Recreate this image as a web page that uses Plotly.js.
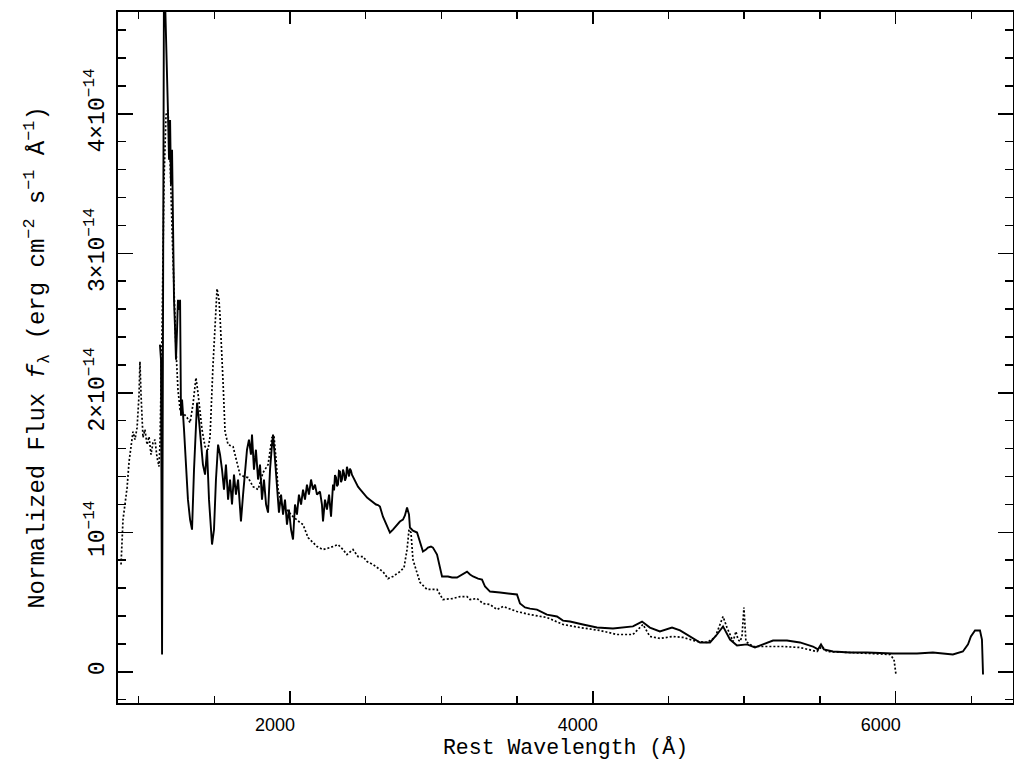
<!DOCTYPE html>
<html>
<head>
<meta charset="utf-8">
<script src="https://cdn.plot.ly/plotly-3.0.1.min.js"></script>
<style>
html,body{margin:0;padding:0;background:#fff;}
#chart{width:1014px;height:764px;}
</style>
</head>
<body>
<div id="chart"></div>
<script>
// Object spectrum (solid), rest wavelength in Å and flux in units of 1e-14 erg cm^-2 s^-1 Å^-1
const wave_obj = [1141,1148,1155,1161,1168,1194,1201,1208,1214,1221,1227,1234,1241,1247,1254,1260,1267,1274,1280,1287,1300,1313,1326,1340,1353,1366,1379,1386,1399,1412,1425,1439,1452,1465,1478,1485,1498,1511,1525,1538,1551,1564,1577,1591,1604,1617,1630,1643,1657,1670,1676,1690,1703,1716,1729,1742,1749,1762,1775,1789,1802,1815,1828,1842,1855,1868,1881,1888,1901,1914,1927,1941,1954,1967,1980,1993,2007,2020,2033,2046,2059,2073,2086,2099,2112,2125,2139,2152,2165,2178,2198,2211,2218,2231,2244,2258,2271,2284,2291,2297,2304,2310,2317,2323,2330,2337,2343,2350,2357,2363,2370,2376,2383,2390,2396,2403,2409,2419,2429,2439,2449,2462,2475,2492,2509,2525,2542,2555,2568,2581,2594,2614,2641,2660,2680,2693,2713,2726,2746,2759,2773,2786,2792,2812,2839,2859,2878,2898,2911,2931,2944,2971,2991,3004,3043,3070,3103,3123,3136,3156,3169,3189,3209,3242,3268,3288,3321,3387,3453,3499,3519,3552,3585,3631,3697,3763,3803,3849,3935,4027,4133,4199,4265,4325,4377,4443,4523,4576,4642,4708,4774,4820,4860,4879,4906,4952,5018,5071,5124,5190,5282,5368,5454,5487,5507,5526,5586,5698,5810,5982,6141,6246,6378,6444,6478,6497,6524,6557,6570,6577];
const flux_obj = [2.345,2.237,0.124,2.667,5.102,4.014,3.670,3.956,3.492,3.742,3.025,2.667,2.452,2.237,2.452,2.667,2.595,2.667,1.836,1.951,1.736,1.449,1.234,1.091,1.019,1.449,1.800,1.929,1.800,1.664,1.485,1.413,1.592,1.234,1.019,0.912,1.019,1.378,1.628,1.557,1.449,1.306,1.485,1.234,1.378,1.199,1.413,1.270,1.378,1.163,1.077,1.270,1.449,1.592,1.664,1.557,1.700,1.449,1.592,1.378,1.485,1.234,1.378,1.199,1.141,1.449,1.628,1.700,1.521,1.306,1.141,1.270,1.127,1.234,1.055,1.163,1.019,0.948,1.199,1.127,1.270,1.199,1.306,1.234,1.342,1.270,1.378,1.306,1.342,1.270,1.292,1.199,1.077,1.234,1.163,1.270,1.112,1.342,1.300,1.410,1.392,1.330,1.342,1.440,1.435,1.360,1.378,1.450,1.421,1.370,1.392,1.470,1.435,1.400,1.456,1.440,1.413,1.390,1.363,1.345,1.327,1.310,1.292,1.270,1.249,1.235,1.220,1.215,1.199,1.195,1.184,1.112,1.041,0.998,1.019,1.034,1.062,1.077,1.091,1.120,1.177,1.127,1.034,1.012,0.998,0.933,0.862,0.876,0.890,0.898,0.890,0.840,0.747,0.683,0.683,0.676,0.676,0.690,0.697,0.711,0.718,0.697,0.683,0.668,0.661,0.611,0.575,0.568,0.561,0.554,0.489,0.461,0.453,0.446,0.410,0.396,0.367,0.360,0.339,0.317,0.310,0.317,0.325,0.360,0.317,0.289,0.317,0.296,0.253,0.210,0.210,0.267,0.325,0.289,0.231,0.188,0.196,0.174,0.196,0.224,0.224,0.210,0.181,0.160,0.196,0.160,0.145,0.138,0.138,0.131,0.131,0.138,0.124,0.145,0.196,0.253,0.296,0.296,0.231,-0.019];

// Composite quasar spectrum (dotted)
const wave_comp = [884,897,910,924,937,950,963,976,990,1003,1009,1016,1029,1042,1056,1069,1082,1095,1108,1122,1135,1141,1155,1168,1181,1194,1208,1221,1234,1247,1260,1274,1293,1320,1340,1359,1379,1392,1419,1439,1458,1472,1491,1505,1518,1531,1538,1558,1571,1591,1624,1650,1670,1696,1723,1756,1789,1822,1855,1881,1894,1908,1921,1947,1980,2020,2066,2086,2119,2178,2218,2264,2317,2350,2376,2416,2449,2482,2509,2548,2594,2614,2647,2680,2726,2753,2773,2786,2799,2812,2826,2859,2905,2971,3010,3076,3123,3169,3189,3235,3275,3321,3367,3407,3499,3585,3697,3803,3915,4047,4160,4265,4331,4377,4443,4529,4595,4688,4754,4807,4840,4860,4886,4926,4945,4959,4972,4985,4998,5011,5058,5150,5256,5368,5480,5513,5546,5698,5850,5962,5989,6002];
const flux_comp = [0.769,1.091,1.199,1.320,1.506,1.614,1.721,1.664,1.750,1.987,2.223,1.987,1.679,1.736,1.628,1.686,1.557,1.643,1.664,1.535,1.471,1.628,2.452,3.527,3.992,4.028,3.670,3.169,2.667,2.309,2.022,1.879,1.857,1.822,1.786,1.915,2.108,2.001,1.736,1.614,1.592,1.686,2.187,2.524,2.746,2.667,2.545,2.073,1.721,1.628,1.614,1.499,1.413,1.399,1.392,1.327,1.306,1.428,1.485,1.679,1.693,1.521,1.306,1.199,1.163,1.112,1.070,1.055,0.962,0.898,0.876,0.890,0.912,0.876,0.840,0.876,0.826,0.826,0.790,0.769,0.733,0.718,0.668,0.683,0.718,0.747,0.876,1.019,0.998,0.804,0.754,0.640,0.590,0.590,0.518,0.525,0.539,0.539,0.518,0.525,0.489,0.482,0.446,0.468,0.432,0.410,0.389,0.339,0.317,0.296,0.267,0.267,0.339,0.253,0.239,0.253,0.246,0.217,0.210,0.246,0.339,0.396,0.317,0.217,0.289,0.231,0.217,0.253,0.461,0.217,0.181,0.181,0.181,0.174,0.145,0.181,0.145,0.138,0.131,0.124,0.088,-0.019];

// Axis tick labels
const xTickVals = [2000, 4000, 6000];
const xTickText = ['2000', '4000', '6000'];
const yTickVals = [0, 1, 2, 3, 4];
const yTickText = ['0', '10<sup>−14</sup>', '2×10<sup>−14</sup>', '3×10<sup>−14</sup>', '4×10<sup>−14</sup>'];

const traces = [
  {x: wave_comp, y: flux_comp, type: 'scatter', mode: 'lines', name: 'composite',
   line: {color: '#000', width: 1.7, dash: '2px,2px'}, hoverinfo: 'skip'},
  {x: wave_obj, y: flux_obj, type: 'scatter', mode: 'lines', name: 'object',
   line: {color: '#000', width: 1.9}, hoverinfo: 'skip'}
];

const mono = 'Liberation Mono, Courier New, monospace';
const layout = {
  width: 1014, height: 764,
  margin: {l: 118, r: 1, t: 12, b: 61, pad: 0},
  paper_bgcolor: '#fff', plot_bgcolor: '#fff',
  showlegend: false,
  xaxis: {
    range: [864, 6775], showgrid: false, zeroline: false,
    showline: true, linecolor: '#000', linewidth: 2, mirror: 'allticks',
    ticks: 'inside', ticklen: 12, tickwidth: 1.5, tickcolor: '#000',
    tickmode: 'array', tickvals: xTickVals, ticktext: xTickText,
    ticklabelshift: -15, ticklabelstandoff: 4,
    tickfont: {family: 'Liberation Sans, Arial, sans-serif', size: 18, color: '#000'},
    minor: {tickmode: 'linear', tick0: 0, dtick: 500, ticks: 'inside', ticklen: 7, tickwidth: 1.5, tickcolor: '#000', showgrid: false},
    title: {text: 'Rest Wavelength (Å)', font: {family: mono, size: 21.5, color: '#000'}, standoff: 5},
    automargin: false
  },
  yaxis: {
    range: [-0.224, 4.730], showgrid: false, zeroline: false,
    showline: true, linecolor: '#000', linewidth: 2, mirror: 'allticks',
    ticks: 'inside', ticklen: 15, tickwidth: 1.5, tickcolor: '#000',
    tickmode: 'array', tickvals: yTickVals, ticktext: yTickText,
    tickangle: -90, ticklabelstandoff: 3,
    tickfont: {family: mono, size: 23, color: '#000'},
    minor: {tickmode: 'linear', tick0: 0, dtick: 0.2, ticks: 'inside', ticklen: 8, tickwidth: 1.5, tickcolor: '#000', showgrid: false},
    title: {text: 'Normalized Flux <i>f</i><sub>λ</sub> (erg cm<sup>−2</sup> s<sup>−1</sup> Å<sup>−1</sup>)', font: {family: mono, size: 24, color: '#000'}, standoff: 30},
    automargin: false
  }
};

Plotly.newPlot('chart', traces, layout, {staticPlot: true, displayModeBar: false});
</script>
</body>
</html>
